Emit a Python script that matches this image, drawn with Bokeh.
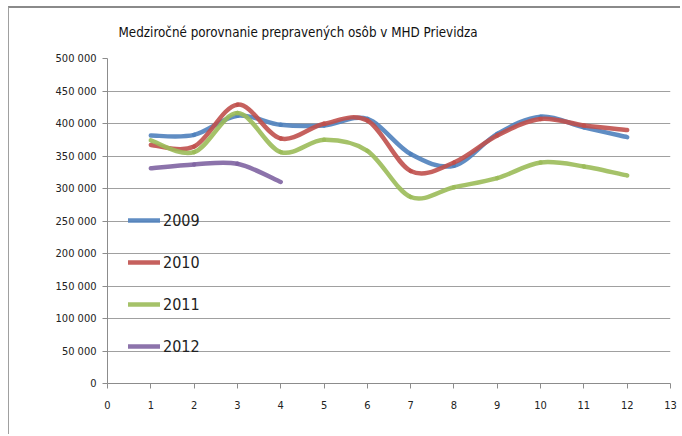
from bokeh.plotting import figure
from bokeh.models import Range1d, FixedTicker, Legend, LegendItem
from bokeh.core.properties import value
from bokeh.embed import file_html
from bokeh.resources import INLINE

months = [1, 2, 3, 4, 5, 6, 7, 8, 9, 10, 11, 12]
y2009 = [381500, 382500, 412000, 398000, 397000, 407000, 353000, 335000, 384000, 410500, 394000, 379000]
y2010 = [367000, 364500, 429000, 377000, 399500, 404500, 327000, 340000, 381500, 407000, 397000, 390000]
y2011 = [374000, 356000, 416000, 356000, 375000, 358000, 287000, 302000, 316000, 340000, 334000, 320000]
y2012 = [331000, 337000, 338000, 310000]
series_names = ["2009", "2010", "2011", "2012"]
colors = ["#4F81BD", "#C0504D", "#9BBB59", "#8064A2"]
y_ticks = [0, 50000, 100000, 150000, 200000, 250000, 300000, 350000, 400000, 450000, 500000]
y_tick_labels = ["0", "50 000", "100 000", "150 000", "200 000", "250 000", "300 000",
                 "350 000", "400 000", "450 000", "500 000"]
x_ticks = list(range(0, 14))
title_text = "Medziročné porovnanie prepravených osôb v MHD Prievidza"

FONT = "'Liberation Sans Narrow', 'DejaVu Sans Condensed', 'Arial Narrow', sans-serif"

p = figure(width=672, height=428, output_backend="svg", toolbar_location=None,
           x_range=Range1d(0, 13), y_range=Range1d(0, 500000),
           min_border_left=98, min_border_right=11, min_border_top=50, min_border_bottom=53,
           title=title_text)
p.styles = {"margin-left": "8px", "margin-top": "6px",
            "border-left": "1px solid #a0a0a0", "border-top": "2px solid #8a8a8a"}
p.outline_line_color = None
p.background_fill_color = "white"
p.border_fill_color = "white"
p.title.align = "left"
p.title.vertical_align = "top"
p.title.offset = 11
p.title.standoff = 33
p.title.text_font = FONT
p.title.text_font_size = "13.3px"
p.title.text_font_style = "normal"
p.title.text_color = "#111111"

# axes
p.xaxis.ticker = FixedTicker(ticks=x_ticks)
p.yaxis.ticker = FixedTicker(ticks=y_ticks)
p.yaxis.major_label_overrides = {t: l for t, l in zip(y_ticks, y_tick_labels)}
for ax in (p.xaxis, p.yaxis):
    ax.axis_line_color = "#8c8c8c"
    ax.major_tick_line_color = "#8c8c8c"
    ax.minor_tick_line_color = None
    ax.major_tick_in = 0
    ax.major_tick_out = 5
    ax.major_label_text_font = FONT
    ax.major_label_text_color = "#222222"
    ax.major_label_text_font_size = "11px"
p.xaxis.major_label_standoff = 12
p.yaxis.major_label_standoff = 6
p.xgrid.grid_line_color = None
p.ygrid.grid_line_color = "#a0a0a0"
p.ygrid.grid_line_width = 1

# smoothed lines (Catmull-Rom style bezier segments, like Excel smoothing)
def bezier_segments(xs, ys):
    n = len(xs)
    out = dict(x0=[], y0=[], x1=[], y1=[], cx0=[], cy0=[], cx1=[], cy1=[])
    for i in range(n - 1):
        a = max(i - 1, 0)
        d = min(i + 2, n - 1)
        out["x0"].append(xs[i]); out["y0"].append(ys[i])
        out["x1"].append(xs[i + 1]); out["y1"].append(ys[i + 1])
        out["cx0"].append(xs[i] + (xs[i + 1] - xs[a]) / 6.0)
        out["cy0"].append(ys[i] + (ys[i + 1] - ys[a]) / 6.0)
        out["cx1"].append(xs[i + 1] - (xs[d] - xs[i]) / 6.0)
        out["cy1"].append(ys[i + 1] - (ys[d] - ys[i]) / 6.0)
    return out

items = []
for name, ys, col in zip(series_names, [y2009, y2010, y2011, y2012], colors):
    xs = months[:len(ys)]
    seg = bezier_segments(xs, ys)
    r = p.bezier(x0=seg["x0"], y0=seg["y0"], x1=seg["x1"], y1=seg["y1"],
                 cx0=seg["cx0"], cy0=seg["cy0"], cx1=seg["cx1"], cy1=seg["cy1"],
                 line_color=col, line_width=4.5, line_alpha=0.9, line_cap="round")
    items.append(LegendItem(label=name, renderers=[r]))

legend = Legend(items=items, location=(21, 27), orientation="vertical",
                glyph_width=32, glyph_height=20, label_height=20, spacing=22,
                padding=0, margin=0, label_standoff=3,
                label_text_font=FONT, label_text_font_size="16px", label_text_color="#222222",
                border_line_color=None, background_fill_alpha=0)
p.add_layout(legend, "center")

open("out.html", "w").write(file_html(p, INLINE))
